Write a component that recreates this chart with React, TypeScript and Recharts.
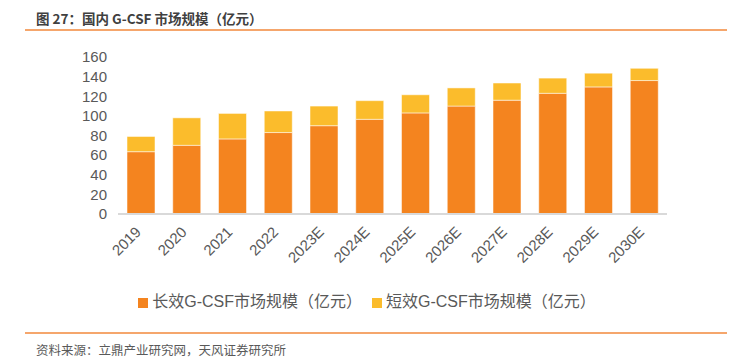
import React from 'react';
import { BarChart, Bar, XAxis, YAxis, Legend } from 'recharts';

const years = ['2019', '2020', '2021', '2022', '2023E', '2024E', '2025E', '2026E', '2027E', '2028E', '2029E', '2030E'];
const longActing = [63.5, 70, 76.5, 83, 90, 96.5, 103, 110, 116, 123, 129.5, 136];
const shortActing = [15.5, 28, 26, 22, 20, 19, 18.5, 18.5, 17.5, 15.5, 14, 12.5];
const yTicks = [0, 20, 40, 60, 80, 100, 120, 140, 160];

const data = years.map((year, i) => ({
  year,
  long: longActing[i],
  short: shortActing[i],
}));

const FONT = '"Liberation Sans", "Noto Sans CJK SC", sans-serif';
const TEXT = '#595959';

const XTick = (props: any) => {
  const { x, y, payload } = props;
  return (
    <g transform={`translate(${x + 1},${y + 11})`}>
      <text textAnchor="end" transform="rotate(-45)" fontSize={15} fill={TEXT} fontFamily={FONT}>
        {payload.value}
      </text>
    </g>
  );
};

const App: React.FC = () => {
  return (
    <div style={{ position: 'absolute', left: 0, top: 0, width: 751, height: 364, background: '#fff', fontFamily: FONT }}>
      <div style={{ position: 'absolute', left: 36, top: 8, fontSize: 13.5, fontWeight: 'bold', color: '#404040', whiteSpace: 'nowrap', fontFamily: '"Noto Sans CJK SC", sans-serif' }}>
        图 27：国内 G-CSF 市场规模（亿元）
      </div>
      <div style={{ position: 'absolute', left: 25, top: 29, width: 702, height: 2, background: '#F5A66C' }} />
      <BarChart width={751} height={364} data={data} margin={{ top: 57, right: 84, bottom: 100, left: 0 }}>
        <XAxis
          dataKey="year"
          height={50}
          interval={0}
          tickLine={false}
          axisLine={{ stroke: '#d9d9d9', strokeWidth: 2 }}
          tick={<XTick />}
        />
        <YAxis
          width={118}
          domain={[0, 160]}
          ticks={yTicks}
          interval={0}
          axisLine={false}
          tickLine={false}
          tickMargin={5}
          tick={{ fontSize: 15, fill: TEXT, fontFamily: FONT }}
        />
        <Legend
          layout="horizontal"
          verticalAlign="middle"
          align="center"
          iconType="square"
          iconSize={10}
          itemSorter="dataKey"
          wrapperStyle={{ top: 288, left: 0, width: 744, fontSize: 16, fontFamily: FONT }}
          formatter={(value: string) => <span style={{ color: TEXT }}>{value}</span>}
        />
        <Bar dataKey="long" name="长效G-CSF市场规模（亿元）" stackId="a" fill="#F4841F" stroke="#ffffff" strokeOpacity={0.5} barSize={28} isAnimationActive={false} />
        <Bar dataKey="short" name="短效G-CSF市场规模（亿元）" stackId="a" fill="#FBBC2C" stroke="#ffffff" strokeOpacity={0.5} barSize={28} isAnimationActive={false} />
      </BarChart>
      <div style={{ position: 'absolute', left: 25, top: 332, width: 702, height: 2, background: '#F5A66C' }} />
      <div style={{ position: 'absolute', left: 36, top: 340, fontSize: 12.5, color: TEXT, whiteSpace: 'nowrap', fontFamily: '"Noto Sans CJK SC", sans-serif' }}>
        资料来源：立鼎产业研究网，天风证券研究所
      </div>
    </div>
  );
};

export default App;
